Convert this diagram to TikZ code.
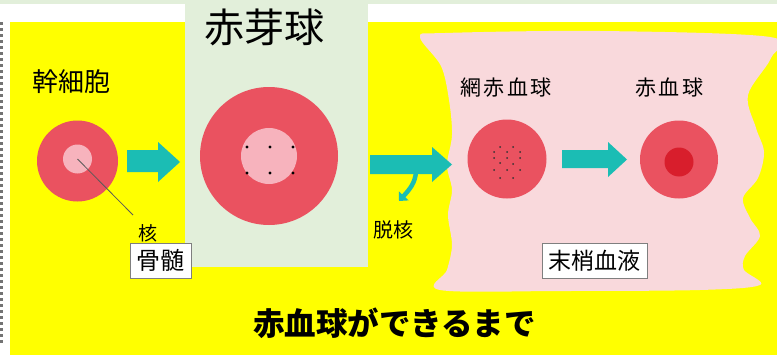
\documentclass[tikz,border=0pt]{standalone}
\usepackage{fontspec}
\newfontfamily\jp{Noto Sans CJK JP}
\usetikzlibrary{arrows.meta}
\definecolor{sunyellow}{HTML}{FFFF00}
\definecolor{panelgreen}{HTML}{E2EFDA}
\definecolor{bloodpink}{HTML}{F9D9DC}
\definecolor{cellred}{HTML}{EA5260}
\definecolor{nucpink}{HTML}{F7B3BD}
\definecolor{corered}{HTML}{D81E2C}
\definecolor{flowteal}{HTML}{1BBDB4}
\definecolor{boxgray}{HTML}{7F7F7F}
\tikzset{
  cell/.style={circle, fill=cellred, draw=none, inner sep=0pt},
  nucleus/.style={circle, fill=nucpink, draw=none, inner sep=0pt},
  granule/.style={circle, fill=black, draw=none, inner sep=0pt, minimum size=3.2pt},
  speck/.style={circle, fill=black!80, draw=none, inner sep=0pt, minimum size=2pt},
  label/.style={inner sep=0pt, font=\jp},
  tagbox/.style={draw=boxgray, line width=1pt, fill=white, inner sep=0pt},
  flow/.style={fill=flowteal, draw=none},
}
\begin{document}
\begin{tikzpicture}[x=1pt, y=-1pt]
  \useasboundingbox (0,0) rectangle (777,356);
  % page background and frames
  \fill[white] (0,0) rectangle (777,356);
  \fill[panelgreen] (0,0) rectangle (777,4);
  \fill[sunyellow] (10,22) rectangle (777,355);
  \draw[black!55, line width=2.2pt, dash pattern=on 3.3pt off 2.7pt] (1.5,22) -- (1.5,345);
  % bone marrow stage panel
  \fill[panelgreen] (185,0) rectangle (368,267);
  % peripheral blood region
  \fill[bloodpink] plot[smooth cycle, tension=0.55] coordinates {
    (420,37) (445,33) (600,31) (770,37) (771,58) (748,95) (756,128)
    (764,152) (758,178) (743,198) (750,218) (760,236) (745,256)
    (744,270) (760,285) (700,290) (560,291) (440,290) (447,270)
    (452,245) (448,215) (452,190) (447,165) (452,135) (449,100)
    (441,66)};

  % stem cell
  \node[cell, minimum size=81pt] (stem) at (77.5,161) {};
  \node[nucleus, minimum size=29pt] (stemnuc) at (77.5,159) {};
  \node[label, font=\jp\fontsize{26}{30}\selectfont] (stemlbl) at (71.5,81.5) {幹細胞};
  \node[label, font=\jp\fontsize{19}{22}\selectfont] (kaku) at (147.5,233.5) {核};
  \coordinate (kakutip) at (133,215);
  \draw[black!65, line width=0.8pt] (stemnuc.center) -- (kakutip);
  \node[tagbox, minimum width=61pt, minimum height=35pt, font=\jp\fontsize{24}{28}\selectfont] (marrow) at (160.5,260.5) {骨髄};

  % arrow: stem cell -> erythroblast
  \fill[flow] (127,150) -- (158,150) -- (158,142) -- (180,162) -- (158,182) -- (158,172) -- (127,172) -- cycle;

  % erythroblast
  \node[label, font=\jp\fontsize{40}{44}\selectfont] (eblbl) at (264,27.5) {赤芽球};
  \node[cell, minimum size=138pt] (eb) at (269,156) {};
  \node[nucleus, minimum size=56pt] (ebnuc) at (269,156) {};
  \foreach \gx/\gy [count=\i] in {247/147, 270/147, 293/147, 247/173, 270/173, 293/173}
    \node[granule] (ebg\i) at (\gx,\gy) {};

  % arrow: erythroblast -> reticulocyte, with enucleation branch
  \fill[flow] (370,155) -- (432,155) -- (432,147) -- (452,164.5) -- (432,182) -- (432,174) -- (370,174) -- cycle;
  \draw[flowteal, line width=4.5pt, -{Triangle[length=7pt, width=13pt]}]
    (416,172) .. controls (415,183) and (410,189) .. (399,201);
  \node[label, font=\jp\fontsize{20}{24}\selectfont] (enuc) at (393,230) {脱核};

  % reticulocyte
  \node[label, font=\jp\fontsize{21}{25}\selectfont\addfontfeature{LetterSpace=12}] (retlbl) at (506,87.5) {網赤血球};
  \node[cell, minimum size=79pt] (ret) at (507,159) {};
  \foreach \gx/\gy [count=\i] in {500/147, 513/147, 494/152, 507/152, 520/152,
      494/158, 507/158, 520/158, 500/163, 513/164, 494/170, 507/170, 520/170,
      500/178, 513/178}
    \node[speck] (rets\i) at (\gx,\gy) {};

  % arrow: reticulocyte -> erythrocyte
  \fill[flow] (562,150) -- (608,150) -- (608,142) -- (627,159.5) -- (608,177) -- (608,168) -- (562,168) -- cycle;

  % erythrocyte
  \node[label, font=\jp\fontsize{21}{25}\selectfont\addfontfeature{LetterSpace=12}] (rbclbl) at (669.5,87.5) {赤血球};
  \node[cell, minimum size=78pt] (rbc) at (679,159.5) {};
  \node[circle, fill=corered, inner sep=0pt, minimum size=29pt] (rbccore) at (679,162) {};

  \node[tagbox, minimum width=105pt, minimum height=35pt, font=\jp\fontsize{23}{27}\selectfont] (blood) at (594.5,260.5) {末梢血液};

  % title
  \node[label, font=\jp\bfseries\fontsize{31.5}{36}\selectfont] (title) at (394.5,323.5) {赤血球ができるまで};
\end{tikzpicture}
\end{document}
